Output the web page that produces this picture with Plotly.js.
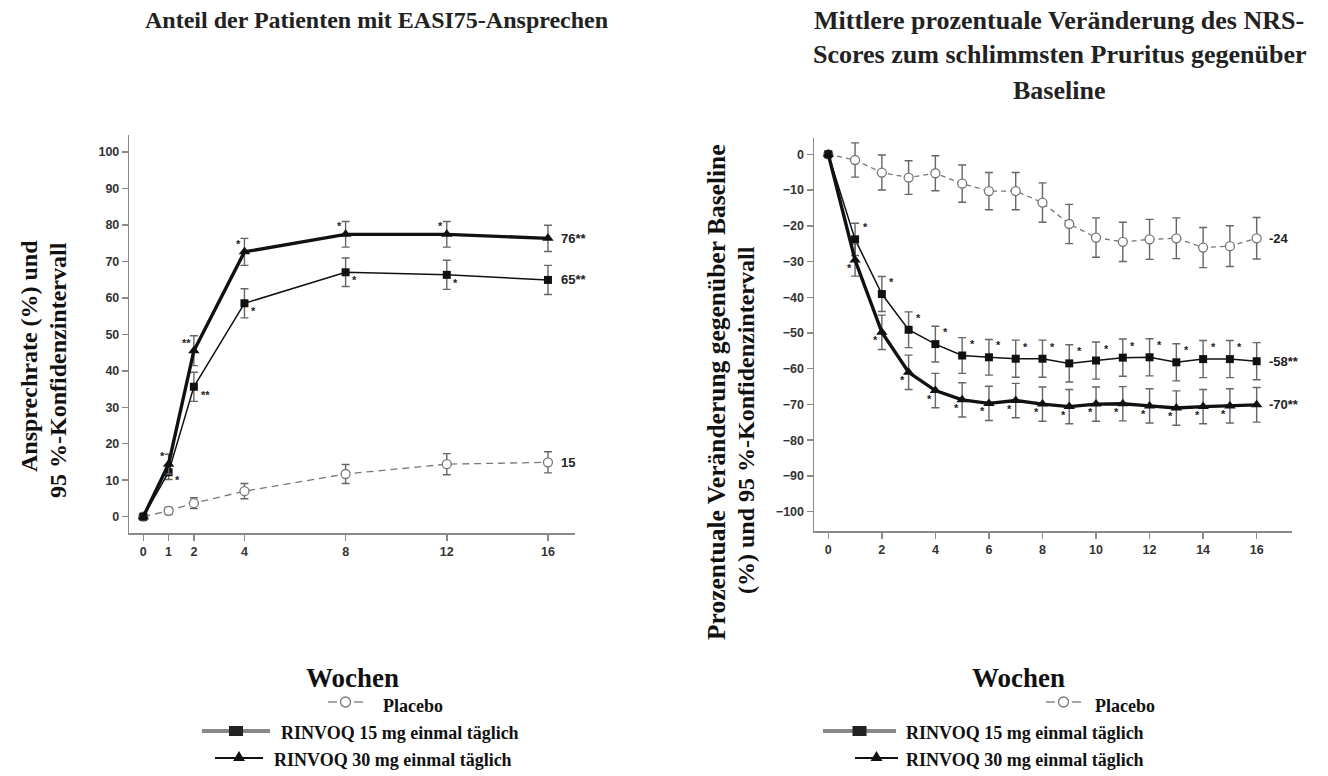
<!DOCTYPE html>
<html><head><meta charset="utf-8">
<script src="https://cdn.plot.ly/plotly-3.0.1.min.js"></script>
<style>html,body{margin:0;padding:0;background:#fff}#chart{width:1328px;height:776px}</style>
</head><body><div id="chart"></div>
<script>
// ---------- data: left panel (EASI75 response, %) ----------
const weeksL      = [0, 1, 2, 4, 8, 12, 16];
const placeboL    = [0, 1.6, 3.7, 7.0, 11.7, 14.4, 14.9];
const placeboLci  = [null, 1.0, 1.5, 2.1, 2.6, 2.9, 2.9];
const r15L        = [0, 12.2, 35.6, 58.5, 67.0, 66.3, 64.9];
const r15Lci      = [null, 2.0, 4.0, 4.0, 3.9, 4.0, 4.0];
const r30L        = [0, 14.4, 45.5, 72.6, 77.4, 77.4, 76.3];
const r30Lci      = [null, 2.7, 4.1, 3.7, 3.5, 3.5, 3.6];
const starsL15    = ['', '*', '**', '*', '*', '*', ''];
const starsL30    = ['', '*', '**', '*', '*', '*', ''];
const endLabelsL  = ['15', '65**', '76**'];
const xTicksL     = [0, 1, 2, 4, 8, 12, 16];
const yTicksL     = [0, 10, 20, 30, 40, 50, 60, 70, 80, 90, 100];

// ---------- data: right panel (NRS pruritus % change) ----------
const weeksR      = [0,1,2,3,4,5,6,7,8,9,10,11,12,13,14,15,16];
const placeboR    = [0,-1.6,-5.1,-6.5,-5.3,-8.2,-10.3,-10.3,-13.5,-19.5,-23.3,-24.5,-23.8,-23.5,-26.1,-25.7,-23.5];
const placeboRci  = [null,4.8,4.9,4.7,4.9,5.2,5.2,5.2,5.5,5.5,5.5,5.5,5.6,5.7,5.6,5.7,5.8];
const r15R        = [0,-23.8,-39.1,-49.1,-53.1,-56.3,-56.8,-57.2,-57.2,-58.5,-57.7,-56.9,-56.8,-58.2,-57.3,-57.3,-57.9];
const r15Rci      = [null,4.5,4.9,5.0,5.0,5.0,5.0,5.2,5.2,5.2,5.2,5.2,5.2,5.2,5.2,5.2,5.2];
const r30R        = [0,-29.6,-49.8,-61.0,-66.1,-68.7,-69.7,-68.9,-69.9,-70.6,-69.9,-69.8,-70.4,-71.0,-70.6,-70.4,-70.1];
const r30Rci      = [null,4.5,4.8,4.8,4.8,4.8,4.8,4.8,4.8,4.8,4.8,4.8,4.8,4.8,4.8,4.8,4.85];
const starsR15    = ['','*','*','*','*','*','*','*','*','*','*','*','*','*','*','*',''];
const starsR30    = ['','*','*','*','*','*','*','*','*','*','*','*','*','*','*','*',''];
const endLabelsR  = ['-24', '-58**', '-70**'];
const xTicksR     = [0, 2, 4, 6, 8, 10, 12, 14, 16];
const yTicksR     = [0, -10, -20, -30, -40, -50, -60, -70, -80, -90, -100];

// ---------- text ----------
const titleL   = 'Anteil der Patienten mit EASI75-Ansprechen';
const titleR   = ['Mittlere prozentuale Veränderung des NRS-', 'Scores zum schlimmsten Pruritus gegenüber', 'Baseline'];
const yTitleL  = ['Ansprechrate (%) und', '95 %-Konfidenzintervall'];
const yTitleR  = ['Prozentuale Veränderung gegenüber Baseline', '(%) und 95 %-Konfidenzintervall'];
const xTitle   = 'Wochen';
const names    = ['Placebo', 'RINVOQ 15 mg einmal täglich', 'RINVOQ 30 mg einmal täglich'];

// ---------- helpers ----------
const W = 1328, H = 776;
const px = x => x / W, py = y => 1 - y / H;
const SERIF = 'Liberation Serif, Times New Roman, serif';
const SANS = 'Liberation Sans, Arial, sans-serif';
const GREY = '#777';
const ERR = '#666';

function traces(x, pl, plci, a, aci, b, bci, xa, ya, dash) {
  return [
    { x, y: pl, xaxis: xa, yaxis: ya, type: 'scatter', mode: 'lines+markers', name: names[0],
      line: { color: GREY, width: 1.3, dash },
      marker: { symbol: 'circle', size: 9, color: '#fff', line: { color: GREY, width: 1.3 } },
      error_y: { type: 'data', array: plci, color: ERR, thickness: 1.4, width: 4 } },
    { x, y: a, xaxis: xa, yaxis: ya, type: 'scatter', mode: 'lines+markers', name: names[1],
      line: { color: '#111', width: 1.5 },
      marker: { symbol: 'square', size: 8, color: '#111' },
      error_y: { type: 'data', array: aci, color: ERR, thickness: 1.4, width: 4 } },
    { x, y: b, xaxis: xa, yaxis: ya, type: 'scatter', mode: 'lines+markers', name: names[2],
      line: { color: '#111', width: 3.4 },
      marker: { symbol: 'triangle-up', size: 10, color: '#111' },
      error_y: { type: 'data', array: bci, color: ERR, thickness: 1.4, width: 4 } }
  ];
}

const data = [
  ...traces(weeksL, placeboL, placeboLci, r15L, r15Lci, r30L, r30Lci, 'x', 'y', '7px,5px'),
  ...traces(weeksR, placeboR, placeboRci, r15R, r15Rci, r30R, r30Rci, 'x2', 'y2', '5px,4px')
];

const tickfont = { family: SANS, size: 12.5, color: '#333', weight: 'bold' };
const axisBase = { showline: true, linecolor: '#8a8a8a', linewidth: 1.5, ticks: 'outside', ticklen: 6,
  tickcolor: '#8a8a8a', tickwidth: 1.5, showgrid: false, zeroline: false, tickfont, tickmode: 'array' };

const annotations = [];
function ann(o) { annotations.push(Object.assign({ showarrow: false, xref: 'paper', yref: 'paper', xanchor: 'center', yanchor: 'middle' }, o)); }

// titles
ann({ x: px(376), y: py(20), text: '<b>' + titleL + '</b>', font: { family: SERIF, size: 24, color: '#222' } });
titleR.forEach((t, i) => ann({ x: px(1059), y: py(20 + i * 35), text: '<b>' + t + '</b>', font: { family: SERIF, size: 26, color: '#222' } }));
const yTitleFont = { family: SERIF, size: 24, color: '#111' };
ann({ x: px(29), y: py(356), text: '<b>' + yTitleL[0] + '</b>', textangle: -90, font: yTitleFont });
ann({ x: px(58), y: py(370), text: '<b>' + yTitleL[1] + '</b>', textangle: -90, font: yTitleFont });
ann({ x: px(716), y: py(392), text: '<b>' + yTitleR[0] + '</b>', textangle: -90, font: { family: SERIF, size: 25.5, color: '#111' } });
ann({ x: px(746), y: py(420), text: '<b>' + yTitleR[1] + '</b>', textangle: -90, font: { family: SERIF, size: 24, color: '#111' } });
ann({ x: px(352), y: py(678), text: '<b>' + xTitle + '</b>', font: { family: SERIF, size: 27, color: '#111' } });
ann({ x: px(1018), y: py(678), text: '<b>' + xTitle + '</b>', font: { family: SERIF, size: 27, color: '#111' } });

// significance stars
const starFont = { family: SANS, size: 11, color: '#222', weight: 'bold' };
function stars(xs, ys, labels, xr, yr, dx, dy) {
  labels.forEach((s, i) => { if (s) annotations.push({ x: xs[i], y: ys[i], xref: xr, yref: yr, text: s, showarrow: false,
    xshift: dx * (s.length > 1 ? 1.3 : 1), yshift: dy, font: starFont }); });
}
stars(weeksL, r30L, starsL30, 'x', 'y', -6, 8);
stars(weeksL, r15L, starsL15, 'x', 'y', 9, -8);
stars(weeksR, r15R, starsR15, 'x2', 'y2', 10, 12);
stars(weeksR, r30R, starsR30, 'x2', 'y2', -6, -8);

// end labels
const endFont = { family: SANS, size: 13, color: '#222', weight: 'bold' };
const lastL = weeksL.length - 1, lastR = weeksR.length - 1;
[placeboL, r15L, r30L].forEach((s, i) => annotations.push({ x: weeksL[lastL], y: s[lastL], xref: 'x', yref: 'y', text: endLabelsL[i],
  xanchor: 'left', xshift: 11, showarrow: false, font: endFont }));
[placeboR, r15R, r30R].forEach((s, i) => annotations.push({ x: weeksR[lastR], y: s[lastR], xref: 'x2', yref: 'y2', text: endLabelsR[i],
  xanchor: 'left', xshift: 10, showarrow: false, font: endFont }));

// legends (drawn with shapes + text)
const shapes = [];
const legFont = { family: SERIF, size: 18, color: '#111' };
function legend(cfg) {
  let y = cfg.y0;
  shapes.push({ type: 'line', xref: 'paper', yref: 'paper', x0: px(cfg.pl[0]), x1: px(cfg.pl[0] + 9), y0: py(y), y1: py(y), line: { color: GREY, width: 1.3 } });
  shapes.push({ type: 'line', xref: 'paper', yref: 'paper', x0: px(cfg.pl[1] - 9), x1: px(cfg.pl[1]), y0: py(y), y1: py(y), line: { color: GREY, width: 1.3 } });
  const c = (cfg.pl[0] + cfg.pl[1]) / 2;
  shapes.push({ type: 'circle', xref: 'paper', yref: 'paper', x0: px(c - 5), x1: px(c + 5), y0: py(y - 5), y1: py(y + 5), line: { color: GREY, width: 1.3 }, fillcolor: '#fff' });
  ann({ x: px(cfg.pl[2]), y: py(y + 4), xanchor: 'left', text: '<b>' + names[0] + '</b>', font: legFont });
  y = cfg.y0 + 29;
  shapes.push({ type: 'line', xref: 'paper', yref: 'paper', x0: px(cfg.a[0]), x1: px(cfg.a[1]), y0: py(y), y1: py(y), line: { color: '#888', width: 4 } });
  const ca = (cfg.a[0] + cfg.a[1]) / 2;
  shapes.push({ type: 'rect', xref: 'paper', yref: 'paper', x0: px(ca - 7), x1: px(ca + 7), y0: py(y - 5), y1: py(y + 5), line: { width: 0 }, fillcolor: '#222' });
  ann({ x: px(cfg.a[2]), y: py(y + 2), xanchor: 'left', text: '<b>' + names[1] + '</b>', font: legFont });
  y = cfg.y0 + 56;
  shapes.push({ type: 'line', xref: 'paper', yref: 'paper', x0: px(cfg.b[0]), x1: px(cfg.b[1]), y0: py(y), y1: py(y), line: { color: '#111', width: 2 } });
  const cb = (cfg.b[0] + cfg.b[1]) / 2;
  shapes.push({ type: 'path', xref: 'paper', yref: 'paper',
    path: `M ${px(cb - 6)} ${py(y + 3)} L ${px(cb + 6)} ${py(y + 3)} L ${px(cb)} ${py(y - 7)} Z`, line: { width: 0 }, fillcolor: '#111' });
  ann({ x: px(cfg.b[2]), y: py(y + 2), xanchor: 'left', text: '<b>' + names[2] + '</b>', font: legFont });
}
legend({ y0: 702, pl: [328, 363, 381], a: [202, 270, 279], b: [215, 263, 272] });
legend({ y0: 702, pl: [1046, 1081, 1093], a: [823, 896, 904], b: [855, 898, 904] });

const layout = {
  width: W, height: H, margin: { l: 0, r: 0, t: 0, b: 0 }, paper_bgcolor: '#fff', plot_bgcolor: '#fff', showlegend: false,
  xaxis: Object.assign({}, axisBase, { domain: [px(129.3), px(575)], range: [-0.553, 17.07], tickvals: xTicksL, anchor: 'y' }),
  yaxis: Object.assign({}, axisBase, { domain: [py(533), py(135)], range: [-4.47, 104.63], tickvals: yTicksL, anchor: 'x' }),
  xaxis2: Object.assign({}, axisBase, { domain: [px(814), px(1292)], range: [-0.534, 17.32], tickvals: xTicksR, anchor: 'y2' }),
  yaxis2: Object.assign({}, axisBase, { domain: [py(531), py(138)], range: [-105.4, 4.56], tickvals: yTicksR, anchor: 'x2' }),
  annotations, shapes
};
Plotly.newPlot('chart', data, layout, { staticPlot: true, displayModeBar: false });
</script></body></html>
